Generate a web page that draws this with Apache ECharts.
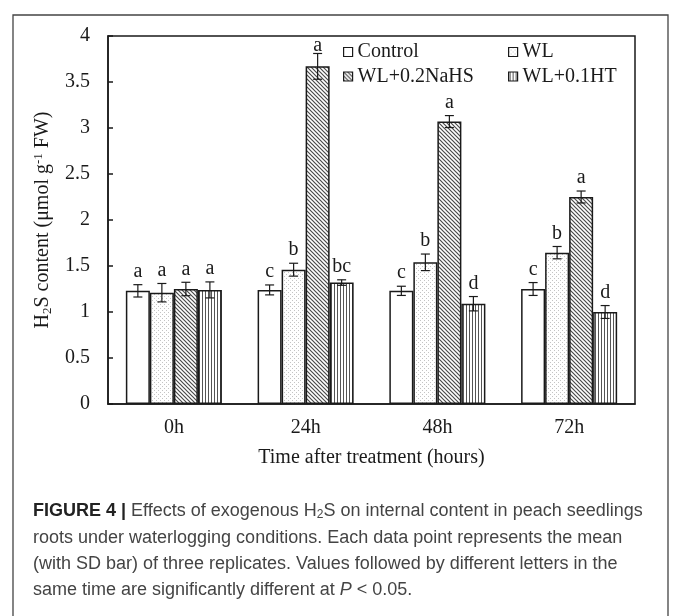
<!DOCTYPE html>
<html><head><meta charset="utf-8">
<script src="https://cdn.jsdelivr.net/npm/echarts@6/dist/echarts.min.js"></script>
<style>html,body{margin:0;padding:0;background:#fff}#c{width:675px;height:616px}</style>
</head><body><div id="c"></div>
<script>
const categories = ['0h', '24h', '48h', '72h'];
const seriesNames = ['Control', 'WL', 'WL+0.2NaHS', 'WL+0.1HT'];
const controlVals = [1.23, 1.24, 1.23, 1.25];
const wlVals = [1.21, 1.46, 1.54, 1.645];
const nahsVals = [1.25, 3.67, 3.07, 2.25];
const htVals = [1.24, 1.32, 1.09, 1.00];
const controlErr = [0.067, 0.054, 0.05, 0.07];
const wlErr = [0.10, 0.07, 0.09, 0.067];
const nahsErr = [0.073, 0.14, 0.065, 0.065];
const htErr = [0.087, 0.03, 0.078, 0.07];
const controlLetters = ['a', 'c', 'c', 'c'];
const wlLetters = ['a', 'b', 'b', 'b'];
const nahsLetters = ['a', 'a', 'a', 'a'];
const htLetters = ['a', 'bc', 'd', 'd'];
const yTicks = { min: 0, max: 4, interval: 0.5 };
const xTitle = 'Time after treatment (hours)';

const allVals = [controlVals, wlVals, nahsVals, htVals];
const allErr = [controlErr, wlErr, nahsErr, htErr];
const allLetters = [controlLetters, wlLetters, nahsLetters, htLetters];

const SERIF = '"Liberation Serif", "Times New Roman", serif';
const SANS = '"Liberation Sans", Arial, sans-serif';
const INK = '#1a1a1a';
const FS = 20;

function pattern(kind) {
  const c = document.createElement('canvas');
  const ctx = c.getContext('2d');
  if (kind === 'dots') {
    c.width = 4; c.height = 4;
    ctx.fillStyle = '#fff'; ctx.fillRect(0, 0, 4, 4);
    ctx.fillStyle = '#c4c4c4';
    ctx.fillRect(0, 0, 1, 1); ctx.fillRect(2, 2, 1, 1);
  } else if (kind === 'diag') {
    c.width = 4; c.height = 4;
    ctx.fillStyle = '#fff'; ctx.fillRect(0, 0, 4, 4);
    ctx.strokeStyle = '#4a4a4a'; ctx.lineWidth = 1.2;
    ctx.beginPath();
    ctx.moveTo(-1, -1); ctx.lineTo(5, 5);
    ctx.moveTo(-1, 3); ctx.lineTo(1, 5);
    ctx.moveTo(3, -1); ctx.lineTo(5, 1);
    ctx.stroke();
  } else if (kind === 'vert') {
    c.width = 3; c.height = 3;
    ctx.fillStyle = '#fff'; ctx.fillRect(0, 0, 3, 3);
    ctx.fillStyle = '#555'; ctx.fillRect(1, 0, 1, 3);
  } else {
    c.width = 2; c.height = 2;
    ctx.fillStyle = '#fff'; ctx.fillRect(0, 0, 2, 2);
  }
  return { image: c, repeat: 'repeat' };
}
const fills = [pattern('plain'), pattern('dots'), pattern('diag'), pattern('vert')];
const GAP = 0.271;
const GRID_TOP = 36;

const errData = [];
for (let s = 0; s < 4; s++) for (let i = 0; i < categories.length; i++) {
  errData.push([i, s, allVals[s][i], allErr[s][i], allLetters[s][i]]);
}

const barSeries = seriesNames.map((n, s) => ({
  name: n, type: 'bar', data: allVals[s],
  barGap: '0%', barCategoryGap: (GAP * 100) + '%',
  itemStyle: { color: fills[s], borderColor: INK, borderWidth: 1.5 },
  emphasis: { disabled: true }
}));

const errSeries = {
  type: 'custom', z: 5, data: errData, encode: { x: 0, y: 2 },
  renderItem: function (params, api) {
    const cat = api.value(0), s = api.value(1), v = api.value(2), e = api.value(3);
    const letter = errData[params.dataIndex][4];
    const catW = api.size([1, 0])[0];
    const bw = catW * (1 - GAP) / 4;
    const x = api.coord([cat, v])[0] + (s - 1.5) * bw;
    const yt = api.coord([cat, v + e])[1];
    const yb = api.coord([cat, v - e])[1];
    const cw = 4.5;
    const ls = { stroke: INK, lineWidth: 1.2 };
    const ly = Math.max(yt - 3, GRID_TOP + 20);
    return {
      type: 'group', children: [
        { type: 'line', shape: { x1: x, y1: yt, x2: x, y2: yb }, style: ls },
        { type: 'line', shape: { x1: x - cw, y1: yt, x2: x + cw, y2: yt }, style: ls },
        { type: 'line', shape: { x1: x - cw, y1: yb, x2: x + cw, y2: yb }, style: ls },
        { type: 'text', style: { x: x, y: ly, text: letter, fill: INK,
          font: FS + 'px ' + SERIF, textAlign: 'center', textVerticalAlign: 'bottom' } }
      ]
    };
  }
};

const captionLines = [
  '{b|FIGURE 4 |} Effects of exogenous H{sub|2}S on internal content in peach seedlings',
  'roots under waterlogging conditions. Each data point represents the mean',
  '(with SD bar) of three replicates. Values followed by different letters in the',
  'same time are significantly different at {i|P} < 0.05.'
];
const capY = [513, 540, 566, 592];

const legendCommon = {
  orient: 'vertical', itemWidth: 9, itemHeight: 9, itemGap: 4.5, icon: 'rect',
  selectedMode: false,
  textStyle: { fontFamily: SERIF, fontSize: FS, color: INK },
  itemStyle: { borderColor: INK, borderWidth: 1.2 }
};

const option = {
  animation: false,
  backgroundColor: '#fff',
  grid: { left: 108, right: 40, top: GRID_TOP, bottom: 212, show: true, borderColor: INK, borderWidth: 1.5 },
  legend: [
    Object.assign({ left: 338, top: 37, data: [seriesNames[0], seriesNames[2]] }, legendCommon),
    Object.assign({ left: 503, top: 37, data: [seriesNames[1], seriesNames[3]] }, legendCommon)
  ],
  xAxis: {
    type: 'category', data: categories,
    axisLine: { lineStyle: { color: INK, width: 1.5 } },
    axisTick: { show: false },
    axisLabel: { fontFamily: SERIF, fontSize: FS, color: INK, margin: 14 },
    name: xTitle, nameLocation: 'middle', nameGap: 44,
    nameTextStyle: { fontFamily: SERIF, fontSize: FS, color: INK }
  },
  yAxis: {
    type: 'value', min: yTicks.min, max: yTicks.max, interval: yTicks.interval,
    splitLine: { show: false },
    axisLine: { show: true, lineStyle: { color: INK, width: 1.5 } },
    axisTick: { show: true, inside: true, length: 5, lineStyle: { color: INK, width: 1.5 } },
    axisLabel: { fontFamily: SERIF, fontSize: FS, color: INK, margin: 18 },
    name: 'H{sub|2}S content (μmol g{sup|-1} FW)',
    nameLocation: 'middle', nameRotate: 90, nameGap: 50,
    nameTextStyle: {
      fontFamily: SERIF, fontSize: FS, color: INK,
      rich: {
        sub: { fontFamily: SERIF, fontSize: 13, color: INK, verticalAlign: 'bottom', padding: [9, 0, 0, 0] },
        sup: { fontFamily: SERIF, fontSize: 13, color: INK, verticalAlign: 'top', padding: [0, 0, 9, 0] }
      }
    }
  },
  series: barSeries.concat([errSeries]),
  graphic: [
    { type: 'rect', silent: true, shape: { x: 13, y: 15, width: 655, height: 620 },
      style: { fill: 'none', stroke: '#444', lineWidth: 1.3 } }
  ].concat(captionLines.map((t, k) => ({
    type: 'text', silent: true, left: 33, top: capY[k] - 11,
    style: {
      text: t, font: '18px ' + SANS, fill: '#444',
      rich: {
        b: { fontFamily: SANS, fontSize: 18, fontWeight: 'bold', fill: '#222' },
        sub: { fontFamily: SANS, fontSize: 12, fill: '#444', verticalAlign: 'bottom', padding: [7, 0, 0, 0] },
        i: { fontFamily: SANS, fontSize: 18, fontStyle: 'italic', fill: '#444' }
      }
    }
  })))
};

const chart = echarts.init(document.getElementById('c'), null, { renderer: 'canvas' });
chart.setOption(option);
</script></body></html>
